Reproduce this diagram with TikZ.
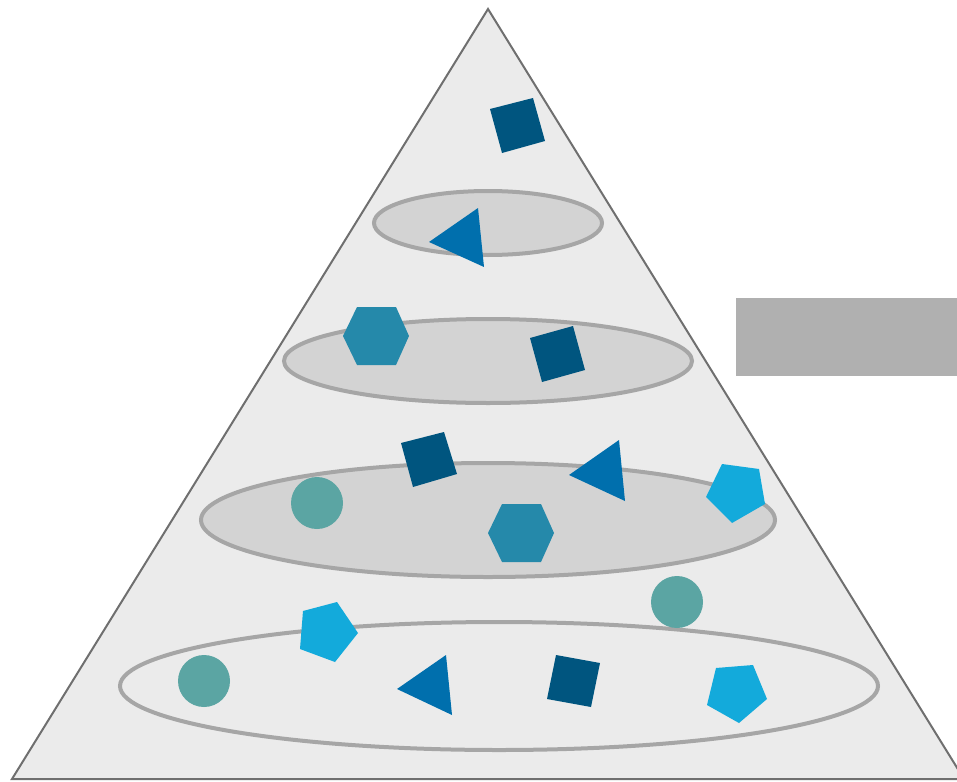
\documentclass[tikz,border=0pt]{standalone}
\usepackage{tikz}

\definecolor{pyrfill}{HTML}{EBEBEB}
\definecolor{pyrline}{HTML}{6F6F6F}
\definecolor{ringfill}{HTML}{D3D3D3}
\definecolor{ringline}{HTML}{A6A6A6}
\definecolor{sqblue}{HTML}{00557F}
\definecolor{triblue}{HTML}{006FAD}
\definecolor{hexblue}{HTML}{2589AA}
\definecolor{pentblue}{HTML}{13AADB}
\definecolor{dotteal}{HTML}{5BA5A3}
\definecolor{boxgray}{HTML}{B0B0B0}

\begin{document}
\begin{tikzpicture}[x=1pt, y=-1pt,
    ring/.style={draw=ringline, line width=4pt, fill=ringfill},
    sq/.style={fill=sqblue},
    tri/.style={fill=triblue},
    hex/.style={fill=hexblue},
    pent/.style={fill=pentblue},
    dot/.style={fill=dotteal}]
  \clip (0,0) rectangle (957,781);

  % Pyramid
  \filldraw[fill=pyrfill, draw=pyrline, line width=2pt] (488,9) -- (964,779) -- (12,779) -- cycle;

  % Side box
  \fill[boxgray] (736,298) rectangle (960,376);

  % Levels (top to bottom)
  \filldraw[ring] (488,223) ellipse (114 and 32);
  \filldraw[ring] (488,361) ellipse (204 and 42);
  \filldraw[ring] (488,520) ellipse (287 and 57);
  \draw[ring, fill=none] (499,686) ellipse (379 and 64);

  % Top
  \fill[sq] (490,109) -- (533,98) -- (545,141) -- (502,153) -- cycle;

  % Level 1
  \fill[tri] (429,242) -- (478,208) -- (484,267) -- cycle;

  % Level 2
  \fill[hex] (343,336) -- (357,307) -- (396,307) -- (409,336) -- (396,365) -- (357,365) -- cycle;
  \fill[sq] (530,338) -- (573,326) -- (585,370) -- (542,382) -- cycle;

  % Level 3
  \fill[dot] (317,503) circle (26);
  \fill[sq] (401,443) -- (444,432) -- (457,474) -- (413,487) -- cycle;
  \fill[tri] (569,475) -- (619,440) -- (625,501) -- cycle;
  \fill[hex] (488,533) -- (502,504) -- (541,504) -- (554,533) -- (541,562) -- (502,562) -- cycle;
  \fill[pent] (722,464) -- (759,469) -- (765,504) -- (732,523) -- (706,497) -- cycle;

  % Level 4
  \fill[dot] (677,602) circle (26);
  \fill[dot] (204,681) circle (26);
  \fill[pent] (303,611) -- (337,602) -- (358,633) -- (335,662) -- (300,649) -- cycle;
  \fill[tri] (397,689) -- (446,655) -- (452,715) -- cycle;
  \fill[sq] (556,655) -- (600,663) -- (591,707) -- (547,699) -- cycle;
  \fill[pent] (716,668) -- (753,665) -- (767,699) -- (739,723) -- (707,705) -- cycle;
\end{tikzpicture}
\end{document}
